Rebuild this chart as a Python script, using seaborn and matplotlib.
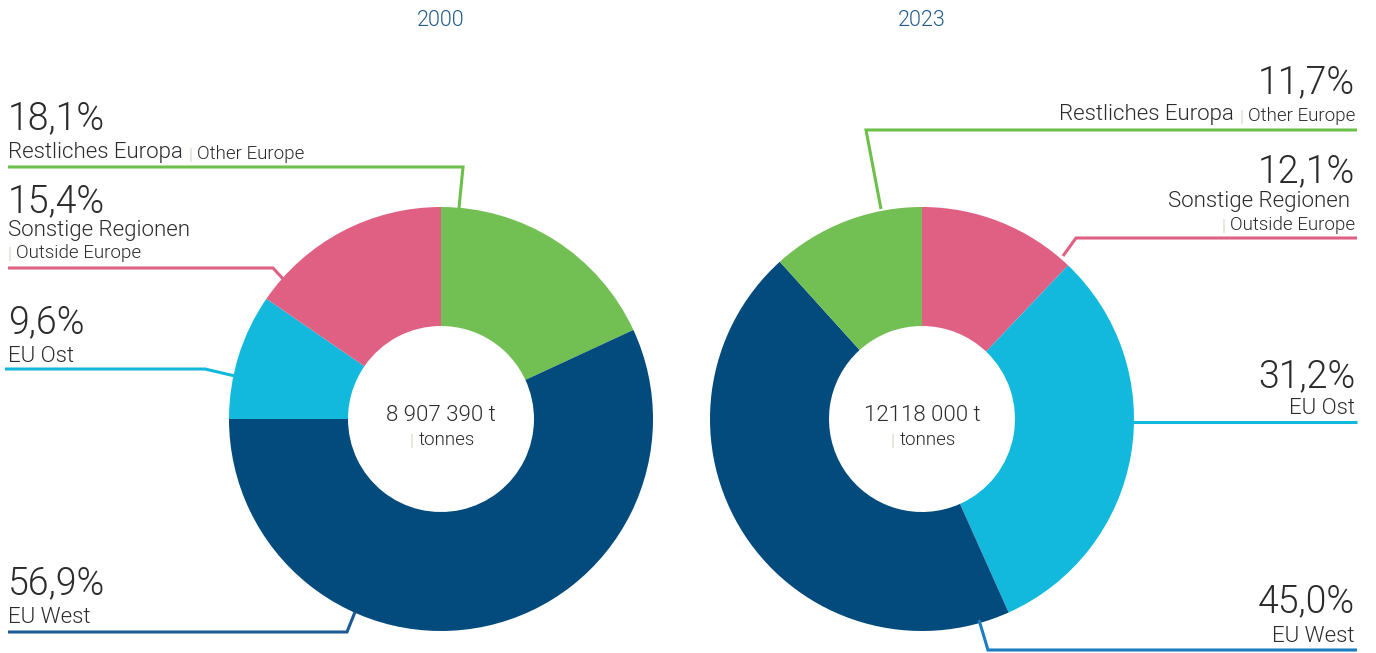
import matplotlib
matplotlib.use("Agg")
import matplotlib.pyplot as plt
import seaborn as sns

# data
years = ["2000", "2023"]
regions_de = ["Restliches Europa", "EU West", "EU Ost", "Sonstige Regionen"]
regions_en = ["Other Europe", "", "", "Outside Europe"]
share_2000 = [18.1, 56.9, 9.6, 15.4]
share_2023 = [11.7, 45.0, 31.2, 12.1]
totals = ["8 907 390 t", "12118 000 t"]

colors = ["#72BF53", "#034A7D", "#13B9DC", "#E06083"]
W, H = 1376, 653
TXT = "#2B2B2B"
SEP = "#D9D9CC"
LW = 300  # Roboto Light


def Y(py):
    return H - py


def pct(v):
    return f"{v:.1f}".replace(".", ",") + "%"


def label(ax, x, y_pct, y_name, value, name, sub, side, sub_newline=None):
    ha = "left" if side == "left" else "right"
    ax.text(x, Y(y_pct), pct(value), fontsize=27, color=TXT, ha=ha,
            va="baseline", fontweight=LW)
    t = ax.text(x, Y(y_name), name, fontsize=16, color=TXT, ha=ha,
                va="baseline", fontweight=LW)
    if not sub:
        return
    if sub_newline is not None:
        # separator + english text on its own line
        if side == "left":
            s = ax.text(x, Y(sub_newline), "|", fontsize=12, color=SEP, ha="left", va="baseline")
            ax.annotate(sub, xy=(1, 0), xycoords=s, xytext=(3, 0), textcoords="offset points",
                        fontsize=13.5, color=TXT, ha="left", va="bottom", fontweight=LW)
        else:
            e = ax.text(x, Y(sub_newline), sub, fontsize=13.5, color=TXT, ha="right",
                        va="baseline", fontweight=LW)
            ax.annotate("|", xy=(0, 0), xycoords=e, xytext=(-3, 0), textcoords="offset points",
                        fontsize=12, color=SEP, ha="right", va="bottom")
        return
    if side == "left":
        s = ax.annotate("|", xy=(1, 0), xycoords=t, xytext=(4, 0), textcoords="offset points",
                        fontsize=12, color=SEP, ha="left", va="bottom")
        ax.annotate(sub, xy=(1, 0), xycoords=s, xytext=(3, 0), textcoords="offset points",
                    fontsize=13.5, color=TXT, ha="left", va="bottom", fontweight=LW)
    else:
        e = ax.text(x, Y(y_name), sub, fontsize=13.5, color=TXT, ha="right",
                    va="baseline", fontweight=LW)
        s = ax.annotate("|", xy=(0, 0), xycoords=e, xytext=(-3, 0), textcoords="offset points",
                        fontsize=12, color=SEP, ha="right", va="bottom")
        t.remove()
        ax.annotate(name, xy=(0, 0), xycoords=s, xytext=(-4, 0), textcoords="offset points",
                    fontsize=16, color=TXT, ha="right", va="bottom", fontweight=LW)


def leader(ax, pts, color):
    ax.plot([p[0] for p in pts], [Y(p[1]) for p in pts], color=color, lw=2.2,
            solid_joinstyle="miter", solid_capstyle="butt")


sns.set_theme(style="white")
plt.rcParams["font.family"] = ["Roboto", "DejaVu Sans"]

fig = plt.figure(figsize=(W / 100, H / 100), dpi=100)
ax = fig.add_axes([0, 0, 1, 1])

centers = [(441, 419), (922, 419)]
outer, inner = 212, 93

# 2000: clockwise from top in region order
ax.pie(share_2000, colors=colors, startangle=90, counterclock=False,
       center=(centers[0][0], Y(centers[0][1])), radius=outer,
       wedgeprops=dict(width=outer - inner, linewidth=0))
# 2023: clockwise from top in reverse region order
ax.pie(share_2023[::-1], colors=colors[::-1], startangle=90, counterclock=False,
       center=(centers[1][0], Y(centers[1][1])), radius=outer,
       wedgeprops=dict(width=outer - inner, linewidth=0))

for (cx, cy), yr, tot in zip(centers, years, totals):
    ax.text(cx, Y(20), yr, fontsize=15.5, color="#1F5A8E", ha="center", va="center",
            fontweight=LW)
    ax.text(cx, Y(421), tot, fontsize=16, color=TXT, ha="center", va="baseline",
            fontweight=LW)
    tn = ax.text(cx + 6, Y(445), "tonnes", fontsize=13.5, color=TXT, ha="center",
                 va="baseline", fontweight=LW)
    ax.annotate("|", xy=(0, 0), xycoords=tn, xytext=(-4, 0), textcoords="offset points",
                fontsize=12, color=SEP, ha="right", va="bottom")

# left labels (2000)
label(ax, 8, 129, 158, share_2000[0], regions_de[0], regions_en[0], "left")
label(ax, 8, 212, 236, share_2000[3], regions_de[3], regions_en[3], "left", sub_newline=259)
label(ax, 8, 333, 362, share_2000[2], regions_de[2], "", "left")
label(ax, 8, 594, 623, share_2000[1], regions_de[1], "", "left")

leader(ax, [(8, 167), (463, 167), (459, 208)], "#6CC04A")
leader(ax, [(8, 268), (273, 268), (285, 281)], "#E06083")
leader(ax, [(5, 369), (205, 369), (235, 376)], "#13B9DC")
leader(ax, [(8, 632), (347, 632), (355, 612)], "#1B5A95")

# right labels (2023)
label(ax, 1355, 93, 121, share_2023[0], regions_de[0], regions_en[0], "right")
label(ax, 1355, 182, 207, share_2023[3], regions_de[3] + " ", regions_en[3], "right", sub_newline=230)
label(ax, 1355, 387, 414, share_2023[2], regions_de[2], "", "right")
label(ax, 1355, 612, 642, share_2023[1], regions_de[1], "", "right")

leader(ax, [(1357, 130), (866, 130), (881, 209)], "#6CC04A")
leader(ax, [(1357, 238), (1076, 238), (1063, 256)], "#E06083")
leader(ax, [(1357, 422), (1133, 422)], "#13B9DC")
leader(ax, [(1357, 650), (988, 650), (979, 620)], "#1C7DC1")

ax.set_xlim(0, W)
ax.set_ylim(0, H)
ax.set_aspect("equal")
ax.axis("off")

fig.savefig("out.png", dpi=100, facecolor="white")
